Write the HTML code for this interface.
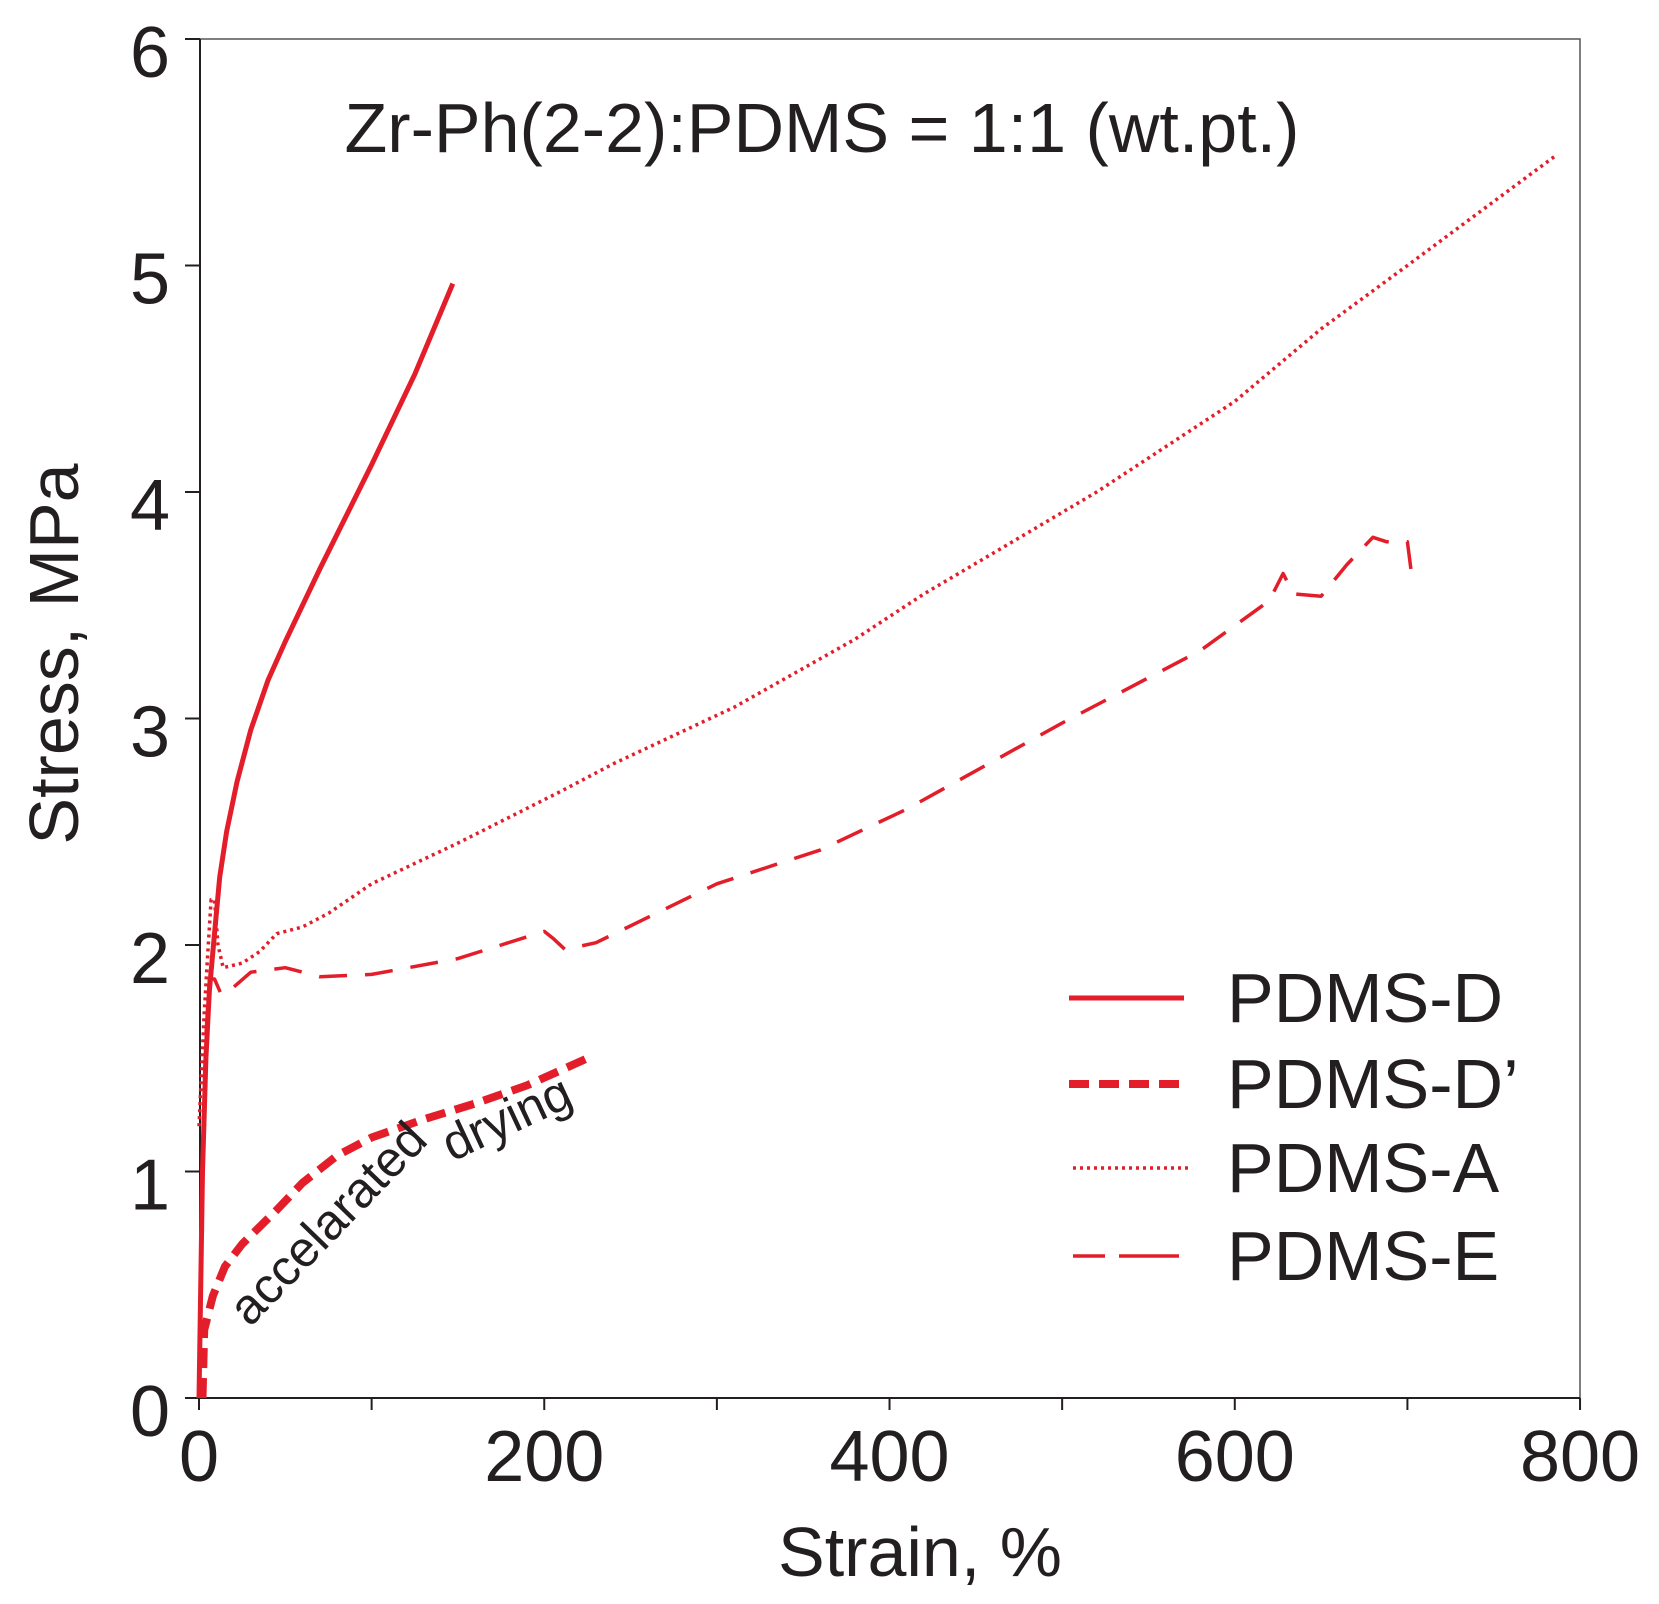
<!DOCTYPE html>
<html><head><meta charset="utf-8"><style>
html,body{margin:0;padding:0;background:#fff;}
svg{display:block;}
text{font-family:"Liberation Sans",Arial,sans-serif;fill:#231f20;}
</style></head><body>
<svg id="s" width="1659" height="1604" viewBox="0 0 1659 1604" xmlns="http://www.w3.org/2000/svg">
<rect width="1659" height="1604" fill="#fff"/>
<g stroke="#231f20" stroke-width="2" fill="none">
<rect x="200" y="39" width="1380" height="1359" stroke="#555" stroke-width="1.5"/>
<line x1="200" y1="39" x2="200" y2="1398"/>
<line x1="200" y1="1398" x2="1580" y2="1398"/>
</g>
<g id="ticks" stroke="#231f20" stroke-width="2"></g>
<g id="curves" fill="none" stroke="#e31e2a" stroke-linejoin="round"></g>
<g font-size="72" text-anchor="end" id="ylab"></g>
<g font-size="72" text-anchor="middle" id="xlab"></g>
<text x="822" y="152" font-size="70" text-anchor="middle">Zr-Ph(2-2):PDMS = 1:1 (wt.pt.)</text>
<text x="920" y="1576" font-size="70" text-anchor="middle">Strain, %</text>
<text transform="translate(78,654) rotate(-90)" font-size="70" text-anchor="middle">Stress, MPa</text>
<g stroke="#e31e2a" fill="none">
<line x1="1069" y1="998" x2="1184" y2="998" stroke-width="5"/>
<line x1="1069" y1="1084" x2="1184" y2="1084" stroke-width="8" stroke-dasharray="20 10"/>
<line x1="1073" y1="1168" x2="1190" y2="1168" stroke-width="3.5" stroke-dasharray="3 4"/>
<line x1="1073" y1="1256" x2="1190" y2="1256" stroke-width="3.5" stroke-dasharray="32 14 60 14"/>
</g>
<g font-size="70">
<text x="1227" y="1022">PDMS-D</text>
<text x="1227" y="1108">PDMS-D’</text>
<text x="1227" y="1192">PDMS-A</text>
<text x="1227" y="1280">PDMS-E</text>
</g>
<text transform="translate(250,1328) rotate(-46)" font-size="50">accelarated</text>
<text transform="translate(452,1162) rotate(-25)" font-size="50">drying</text>
</svg>
<script>
var X=function(v){return 199+v*1.7263}, Y=function(v){return 1398-v*226.5};
var NS="http://www.w3.org/2000/svg";
var t=document.getElementById('ticks'), yl=document.getElementById('ylab'), xl=document.getElementById('xlab');
for(var i=0;i<=6;i++){var l=document.createElementNS(NS,'line');l.setAttribute('x1',185);l.setAttribute('x2',200);l.setAttribute('y1',Y(i));l.setAttribute('y2',Y(i));t.appendChild(l);
var tx=document.createElementNS(NS,'text');tx.setAttribute('x',170);tx.setAttribute('y',Y(i)+38);tx.textContent=i;yl.appendChild(tx);}
for(var i=0;i<=8;i++){var l=document.createElementNS(NS,'line');l.setAttribute('x1',X(i*100));l.setAttribute('x2',X(i*100));l.setAttribute('y1',1398);l.setAttribute('y2',1410);t.appendChild(l);
if(i%2==0){var tx=document.createElementNS(NS,'text');tx.setAttribute('x',X(i*100));tx.setAttribute('y',1481);tx.textContent=i*100;xl.appendChild(tx);}}
function P(pts,w,da){var d=pts.map(function(p,k){return (k?'L':'M')+X(p[0]).toFixed(1)+' '+Y(p[1]).toFixed(1)}).join(' ');
var e=document.createElementNS(NS,'path');e.setAttribute('d',d);e.setAttribute('stroke-width',w);if(da)e.setAttribute('stroke-dasharray',da);document.getElementById('curves').appendChild(e);}
P([[0,0],[2,1.0],[4,1.5],[6,1.8],[9,2.05],[12,2.3],[16,2.5],[22,2.72],[30,2.95],[40,3.17],[50,3.34],[70,3.66],[100,4.12],[125,4.52],[147,4.92]],5);
P([[2,0],[3,0.3],[8,0.45],[15,0.58],[25,0.68],[45,0.83],[60,0.95],[80,1.07],[100,1.15],[130,1.23],[160,1.3],[190,1.38],[225,1.5]],8,"20 10");
P([[0,1.2],[3,1.7],[5,1.95],[7,2.2],[9,2.2],[11,2.0],[14,1.9],[25,1.92],[35,1.97],[45,2.05],[60,2.08],[75,2.14],[100,2.27],[150,2.45],[210,2.68],[240,2.8],[310,3.05],[380,3.35],[420,3.55],[460,3.73],[520,4.0],[600,4.4],[650,4.72],[700,5.0],[785,5.48]],3.5,"3 4");
P([[2,1.0],[4,1.6],[6,1.85],[9,1.85],[13,1.78],[18,1.8],[30,1.88],[50,1.9],[70,1.86],[100,1.87],[150,1.94],[200,2.06],[205,2.03],[212,1.98],[230,2.01],[300,2.27],[360,2.42],[410,2.6],[500,2.98],[580,3.3],[620,3.52],[628,3.64],[634,3.55],[650,3.54],[665,3.68],[680,3.8],[688,3.78],[700,3.78],[702,3.66]],3.5,"28 18");
</script>
</body></html>
